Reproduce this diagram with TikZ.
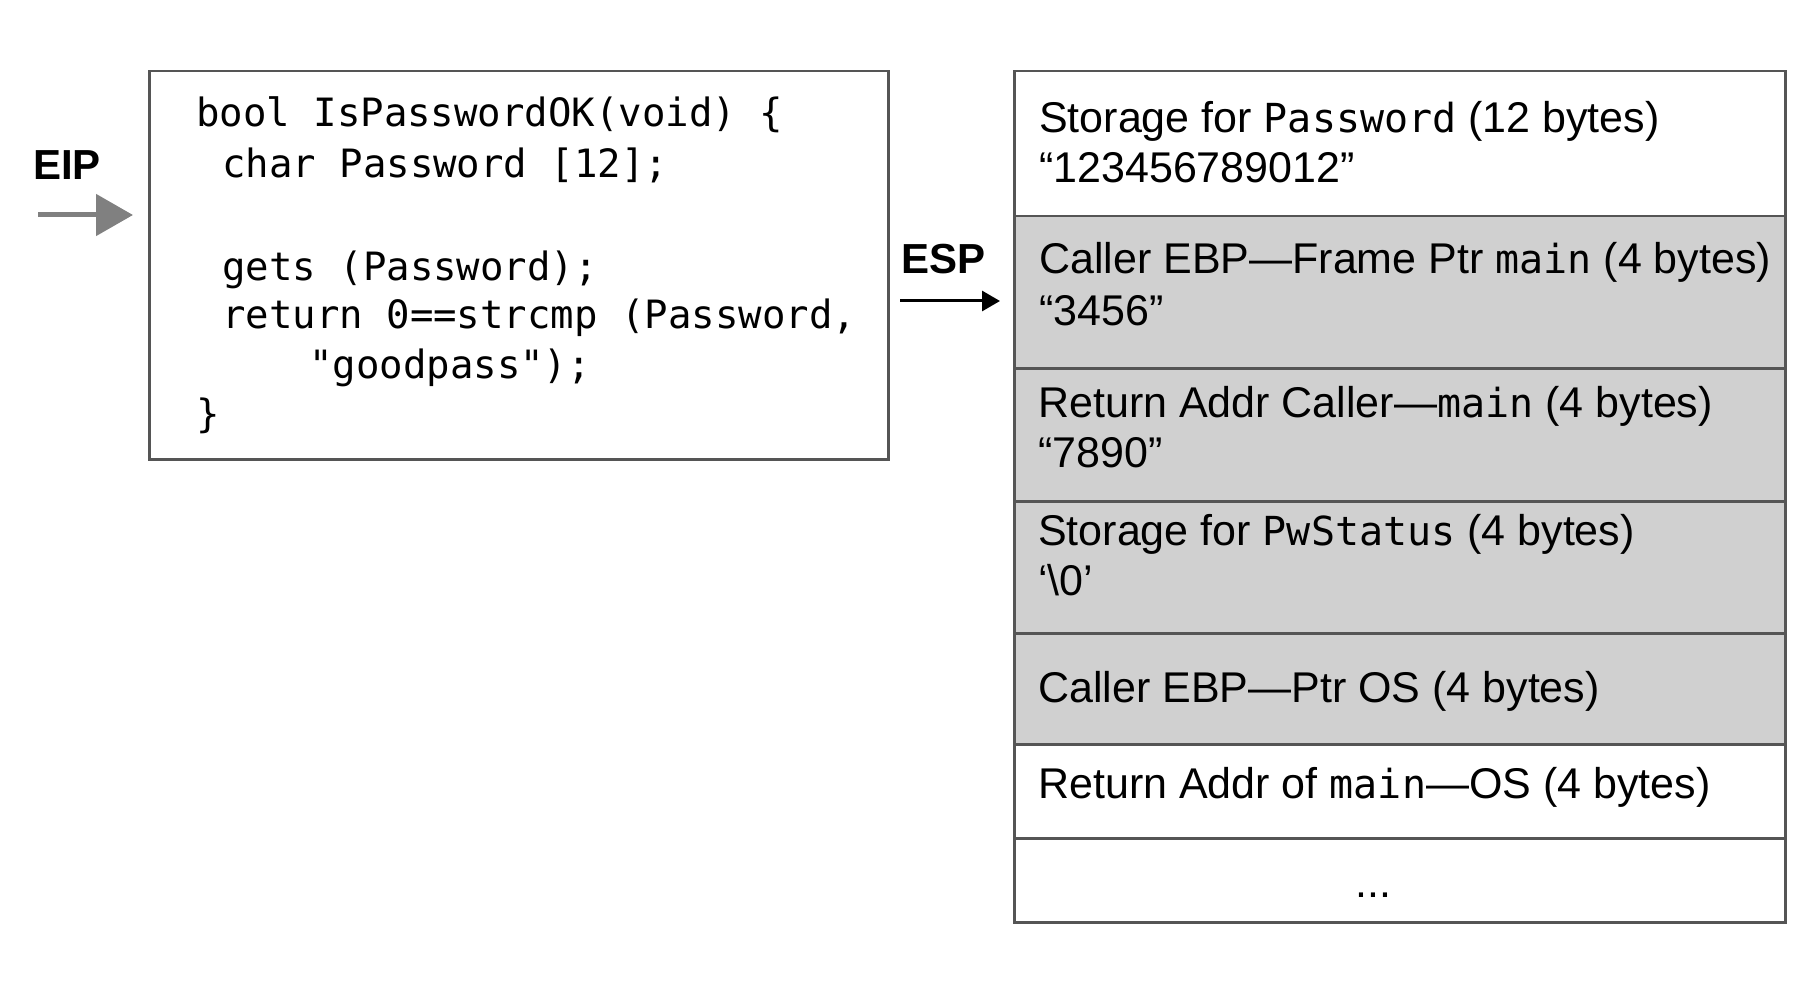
\documentclass[tikz,border=0pt]{standalone}
\usepackage{fontspec}
\setmainfont{Liberation Sans}
\newfontfamily\codefont{DejaVu Sans Mono}
\usetikzlibrary{arrows.meta}
\definecolor{boxc}{HTML}{555555}
\definecolor{cellgray}{HTML}{D0D0D0}
\definecolor{arrgray}{HTML}{808080}
\newcommand\stacktxt{\fontsize{43}{50}\selectfont}
\newcommand\codetxt{\codefont\fontsize{39}{50}\selectfont}
\newcommand\inmono[1]{{\codefont\fontsize{40}{50}\selectfont #1}}
\begin{document}
\begin{tikzpicture}[x=1pt,y=-1pt,
  cell/.style={draw=boxc, line width=2.5pt, anchor=north west, inner sep=0pt, minimum width=771pt},
  graycell/.style={cell, fill=cellgray},
  txt/.style={anchor=base west, inner sep=0pt, font=\stacktxt},
  code/.style={anchor=base west, inner sep=0pt, font=\codetxt},
  reg/.style={anchor=base west, inner sep=0pt, font=\bfseries\fontsize{42}{50}\selectfont}
]
\useasboundingbox (0,0) rectangle (1820,984);

% code box
\node[draw=boxc, line width=2.5pt, anchor=north west, inner sep=0pt,
      minimum width=739pt, minimum height=388pt] (codebox) at (148,70) {};
\node[code] (c1) at (196,127) {bool IsPasswordOK(void) \{};
\node[code] (c2) at (222,178) {char Password [12];};
\node[code] (c3) at (222,280) {gets (Password);};
\node[code] (c4) at (222,328) {return 0==strcmp (Password,};
\node[code] (c5) at (309,378) {"goodpass");};
\node[code] (c6) at (196,427) {\}};

% stack cells
\node[cell, minimum height=145pt] (r1) at (1013,70) {};
\node[graycell, minimum height=152pt] (r2) at (1013,215) {};
\node[graycell, minimum height=133pt] (r3) at (1013,367) {};
\node[graycell, minimum height=132pt] (r4) at (1013,500) {};
\node[graycell, minimum height=111pt] (r5) at (1013,632) {};
\node[cell, minimum height=94pt] (r6) at (1013,743) {};
\node[cell, minimum height=84pt] (r7) at (1013,837) {};

\node[txt] (t1a) at (1039,133) {Storage for \inmono{Password} (12 bytes)};
\node[txt] (t1b) at (1039,183) {“123456789012”};
\node[txt] (t2a) at (1039,273) {Caller EBP—Frame Ptr \inmono{main} (4 bytes)};
\node[txt] (t2b) at (1039,325) {“3456”};
\node[txt] (t3a) at (1038,417) {Return Addr Caller—\inmono{main} (4 bytes)};
\node[txt] (t3b) at (1038,467) {“7890”};
\node[txt] (t4a) at (1038,545) {Storage for \inmono{PwStatus} (4 bytes)};
\node[txt] (t4b) at (1038,595) {‘\textbackslash 0’};
\node[txt] (t5) at (1038,702) {Caller EBP—Ptr OS (4 bytes)};
\node[txt] (t6) at (1038,798) {Return Addr of \inmono{main}—OS (4 bytes)};
\node[anchor=base, inner sep=0pt, font=\stacktxt] (t7) at (1373,897) {...};

% registers
\node[reg] (eip) at (33,180) {EIP};
\coordinate (eipS) at (38,215);
\coordinate (eipE) at (133,215);
\draw[arrgray, line width=5pt, -{Triangle[length=37pt,width=41pt]}] (eipS) -- (eipE);

\node[reg] (esp) at (901,273) {ESP};
\coordinate (espS) at (900,301);
\coordinate (espE) at (1000,301);
\draw[black, line width=3pt, -{Triangle[length=18pt,width=20pt]}] (espS) -- (espE);
\end{tikzpicture}
\end{document}
